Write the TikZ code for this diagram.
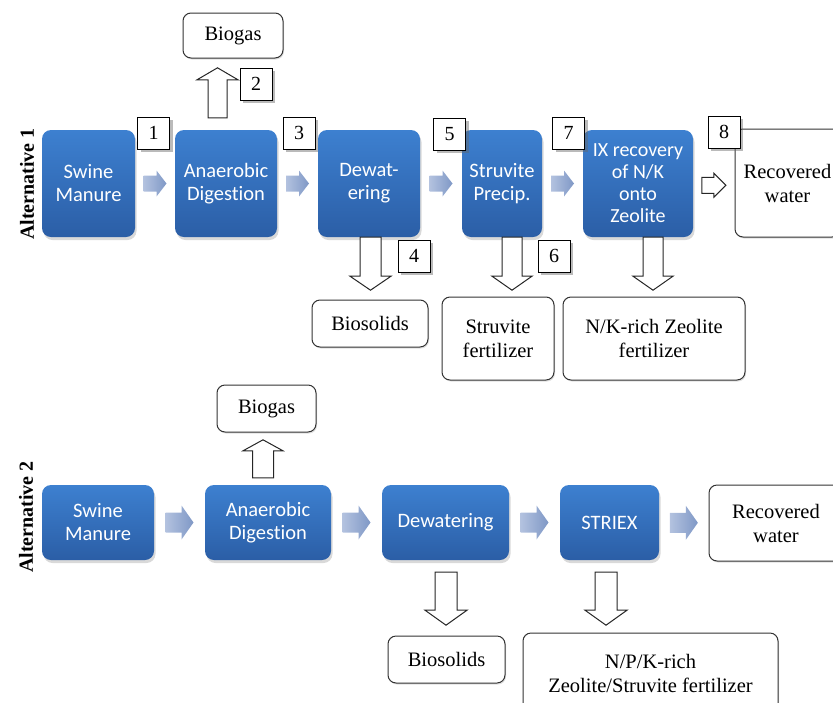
\documentclass[tikz,border=0pt]{standalone}
\usepackage{fontspec}
\setmainfont{Liberation Serif}
\newfontfamily\calfont[Ligatures={NoCommon}]{Carlito}
\usetikzlibrary{calc,shadows}
\definecolor{btop}{HTML}{3D80D0}
\definecolor{bbot}{HTML}{2B5EA6}
\definecolor{ga}{HTML}{B3C2DF}
\definecolor{gb}{HTML}{7F98C6}
\tikzset{
 proc/.style={rounded corners=9pt, top color=btop, bottom color=bbot, draw=none, text=white,
   font=\calfont\fontsize{20.5}{23}\selectfont, align=center, inner sep=0pt,
   drop shadow={shadow xshift=1.5pt, shadow yshift=-3pt, opacity=.3}},
 outbox/.style={rounded corners=8pt, draw=black!80, line width=1pt, fill=white,
   font=\fontsize{20.5}{24}\selectfont, align=center, inner sep=0pt,
   drop shadow={shadow xshift=1pt, shadow yshift=-1.5pt, opacity=.25}},
 numbox/.style={draw=black, line width=0.8pt, fill=white, font=\fontsize{20}{22}\selectfont,
   minimum width=32pt, minimum height=32pt, inner sep=0pt,
   drop shadow={shadow xshift=3pt, shadow yshift=-3pt, opacity=.45, fill=black!60}},
 hollow/.style={draw=black!85, line width=1pt, fill=white, line join=miter},
 grayfill/.style={left color=ga, right color=gb},
 altlabel/.style={rotate=90, font=\bfseries\fontsize{20}{22}\selectfont}
}
% #1 style, #2 base coordinate, #3 angle, #4 length, #5 head length, #6 shaft half, #7 head half
\newcommand\barrow[7]{%
 \path[#1, shift={(#2)}, rotate=#3] (0,-#6) -- ({#4-#5},-#6) -- ({#4-#5},-#7) -- (#4,0)
   -- ({#4-#5},#7) -- ({#4-#5},#6) -- (0,#6) -- cycle;}
% gray arrow centred between two nodes: #1 node A, #2 node B, #3 length, #4 head, #5 shaft half, #6 head half
\newcommand\grayarr[6]{%
 \coordinate (gtmp) at ($(#1.east)!0.5!(#2.west)+({-#3/2},0)$);
 \barrow{grayfill}{gtmp}{0}{#3}{#4}{#5}{#6}}
\begin{document}
\begin{tikzpicture}[x=1pt,y=-1pt]
\useasboundingbox (0,0) rectangle (833,702);
\clip (0,0) rectangle (833,702);

% ---------------- Alternative 1 ----------------
\node[altlabel] (alt1) at (27,184) {Alternative 1};
\node[proc, minimum width=93pt, minimum height=107pt] (sw1) at (88.5,183.5) {Swine\\Manure};
\node[proc, minimum width=102pt, minimum height=107pt] (ad1) at (226,183.5) {Anaerobic\\Digestion};
\node[proc, minimum width=102pt, minimum height=107pt] (dw1) at (369,183.5) {Dewat-\\ering};
\node[proc, minimum width=80pt, minimum height=107pt] (st1) at (502,183.5) {Struvite\\Precip.};
\node[proc, minimum width=110pt, minimum height=107pt, font=\calfont\fontsize{20}{22}\selectfont] (ix1) at (638,183.5) {IX recovery\\of N/K\\onto\\Zeolite};

\node[outbox, minimum width=105pt, minimum height=108pt] (rw1) at (787.5,183) {Recovered\\water};
\node[outbox, minimum width=100pt, minimum height=45pt] (bg1) at (233,35.5) {Biogas};
\node[outbox, minimum width=116pt, minimum height=47pt] (bs1) at (370,323.5) {Biosolids};
\node[outbox, minimum width=112pt, minimum height=83pt] (sf1) at (498,338.5) {Struvite\\fertilizer};
\node[outbox, minimum width=182pt, minimum height=83pt] (zf1) at (654,338.5) {N/K-rich Zeolite\\fertilizer};

\grayarr{sw1}{ad1}{23}{10}{8}{13}
\grayarr{ad1}{dw1}{23}{10}{8}{13}
\grayarr{dw1}{st1}{23}{10}{8}{13}
\grayarr{st1}{ix1}{23}{10}{8}{13}

\coordinate (u1) at ($(ad1.north)+(-8.5,-12)$);
\coordinate (d1) at ($(dw1.south)+(1.5,0)$);
\coordinate (d2) at ($(st1.south)+(10,0)$);
\coordinate (d3) at ($(ix1.south)+(15,0)$);
\coordinate (r1) at ($(ix1.east)!0.5!(rw1.west)+(-12,2)$);
\barrow{hollow}{u1}{90}{50}{12}{9.5}{20.5}
\barrow{hollow}{d1}{-90}{53}{14}{10.5}{20.5}
\barrow{hollow}{d2}{-90}{53}{14}{10}{20}
\barrow{hollow}{d3}{-90}{53}{14}{10}{20}
\barrow{hollow}{r1}{0}{24}{12}{8}{12}

\node[numbox] (n1) at (153.5,133) {1};
\node[numbox] (n2) at (256,84) {2};
\node[numbox] (n3) at (299,133) {3};
\node[numbox] (n4) at (414,256) {4};
\node[numbox] (n5) at (449.5,134) {5};
\node[numbox] (n6) at (554,256) {6};
\node[numbox] (n7) at (568.5,133) {7};
\node[numbox] (n8) at (724,132) {8};

% ---------------- Alternative 2 ----------------
\node[altlabel] (alt2) at (26,517) {Alternative 2};
\node[proc, minimum width=112pt, minimum height=75pt] (sw2) at (98,522.5) {Swine\\Manure};
\node[proc, minimum width=126pt, minimum height=75pt] (ad2) at (268,522.5) {Anaerobic\\Digestion};
\node[proc, minimum width=127pt, minimum height=75pt] (dw2) at (445.5,522.5) {Dewatering};
\node[proc, minimum width=99pt, minimum height=75pt] (sx2) at (609.5,522.5) {STRIEX};
\node[outbox, minimum width=134pt, minimum height=76pt] (rw2) at (776,523) {Recovered\\water};
\node[outbox, minimum width=99pt, minimum height=47pt] (bg2) at (266.5,408.5) {Biogas};
\node[outbox, minimum width=117pt, minimum height=47pt] (bs2) at (446.5,659.5) {Biosolids};
\node[outbox, minimum width=255pt, minimum height=80pt] (nf2) at (650.5,673) {N/P/K-rich\\Zeolite/Struvite fertilizer};

\grayarr{sw2}{ad2}{28}{12}{10}{17}
\grayarr{ad2}{dw2}{28}{12}{10}{17}
\grayarr{dw2}{sx2}{28}{12}{10}{17}
\grayarr{sx2}{rw2}{28}{12}{10}{17}

\coordinate (u2) at ($(ad2.north)+(-5,-7)$);
\coordinate (d4) at ($(dw2.south)+(0.5,12)$);
\coordinate (d5) at ($(sx2.south)+(-3.5,12)$);
\barrow{hollow}{u2}{90}{38}{11}{10.5}{20}
\barrow{hollow}{d4}{-90}{53}{15}{11}{21}
\barrow{hollow}{d5}{-90}{53}{15}{11}{21}
\end{tikzpicture}
\end{document}
